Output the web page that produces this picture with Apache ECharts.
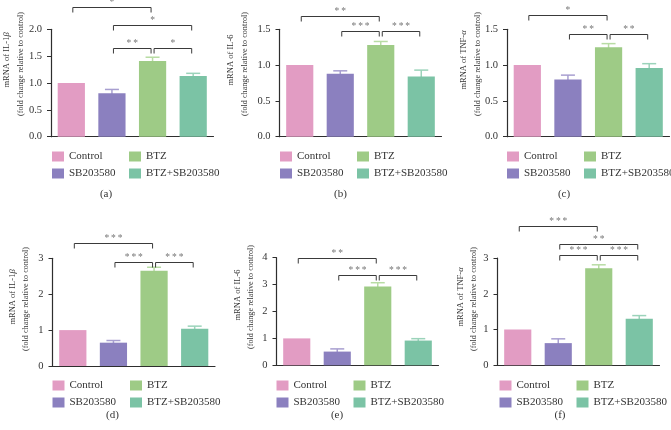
<!DOCTYPE html>
<html><head><meta charset="utf-8">
<script src="https://cdn.jsdelivr.net/npm/echarts@6/dist/echarts.min.js"></script>
<style>html,body{margin:0;padding:0;background:#fff}#c{width:671px;height:430px}</style>
</head><body><div id="c"></div>
<script>
// ---------- data ----------
const categories = ['Control', 'SB203580', 'BTZ', 'BTZ+SB203580'];

const meanA = [1.00, 0.81, 1.41, 1.13]; const errA = [0, 0.07, 0.07, 0.05];
const meanB = [1.00, 0.88, 1.28, 0.84]; const errB = [0, 0.04, 0.05, 0.09];
const meanC = [1.00, 0.80, 1.25, 0.96]; const errC = [0, 0.06, 0.05, 0.06];
const meanD = [1.00, 0.65, 2.65, 1.04]; const errD = [0, 0.06, 0.10, 0.07];
const meanE = [1.00, 0.51, 2.93, 0.92]; const errE = [0, 0.10, 0.14, 0.07];
const meanF = [1.00, 0.62, 2.71, 1.30]; const errF = [0, 0.12, 0.10, 0.09];

// significance brackets: [fromIndex, toIndex, level, stars]
const sigA = [[0, 2, 2.42, '*'], [1, 3, 2.08, '*'], [1, 2, 1.66, '**'], [2, 3, 1.66, '*']];
const sigB = [[0, 2, 1.68, '**'], [1, 2, 1.47, '***'], [2, 3, 1.47, '***']];
const sigC = [[0, 2, 1.70, '*'], [1, 2, 1.43, '**'], [2, 3, 1.43, '**']];
const sigD = [[0, 2, 3.42, '***'], [1, 2, 2.91, '***'], [2, 3, 2.91, '***']];
const sigE = [[0, 2, 4.00, '**'], [1, 2, 3.34, '***'], [2, 3, 3.34, '***']];
const sigF = [[0, 2, 3.90, '***'], [1, 3, 3.38, '**'], [1, 2, 3.07, '***'], [2, 3, 3.07, '***']];

// y axis ticks: [max, interval, decimals]
const yTicksA = [2.0, 0.5, 1];
const yTicksB = [1.5, 0.5, 1];
const yTicksC = [1.5, 0.5, 1];
const yTicksD = [3, 1, 0];
const yTicksE = [4, 1, 0];
const yTicksF = [3, 1, 0];

const yTitles = ['mRNA of IL-1{i|β}', 'mRNA of IL-6', 'mRNA of TNF-{i|α}', 'mRNA of IL-1{i|β}', 'mRNA of IL-6', 'mRNA of TNF-{i|α}'];
const yTitle2 = '(fold change relative to control)';
const captions = ['(a)', '(b)', '(c)', '(d)', '(e)', '(f)'];

// ---------- styles / layout ----------
const colors = ['#E29CC3', '#8B80BF', '#9ECB86', '#7BC3A5'];
const errColors = ['#EDB9D5', '#A89FD0', '#B8DCA4', '#9BD3BA'];
const FONT = '"Liberation Serif", "Times New Roman", serif';

const panels = [
  {mean: meanA, err: errA, sig: sigA, ticks: yTicksA, grid: {left: 51, top: 29.3, width: 162.5, height: 107.4},
   lab1: [7, 60], lab2: [20.5, 64], cap: [106, 194], leg1: [52, 151], leg2: [129, 151]},
  {mean: meanB, err: errB, sig: sigB, ticks: yTicksB, grid: {left: 279.5, top: 29.3, width: 162, height: 107.4},
   lab1: [231, 60], lab2: [244.5, 64], cap: [340.5, 194], leg1: [280, 151], leg2: [357, 151]},
  {mean: meanC, err: errC, sig: sigC, ticks: yTicksC, grid: {left: 507, top: 29.3, width: 162.5, height: 107.4},
   lab1: [463.5, 60], lab2: [477.5, 64], cap: [564, 194], leg1: [507, 151], leg2: [584, 151]},
  {mean: meanD, err: errD, sig: sigD, ticks: yTicksD, grid: {left: 52.5, top: 258.3, width: 162.5, height: 107.7},
   lab1: [13, 297], lab2: [26, 299], cap: [112.5, 415], leg1: [52.5, 380], leg2: [130, 380]},
  {mean: meanE, err: errE, sig: sigE, ticks: yTicksE, grid: {left: 276.5, top: 257.7, width: 162, height: 107.6},
   lab1: [238, 295], lab2: [251, 297], cap: [337, 415], leg1: [276.5, 380], leg2: [353.5, 380]},
  {mean: meanF, err: errF, sig: sigF, ticks: yTicksF, grid: {left: 497.5, top: 258, width: 162, height: 107.3},
   lab1: [461, 297], lab2: [474, 299], cap: [560, 415], leg1: [499.5, 380], leg2: [576.5, 380]}
];

const grid = [], xAxis = [], yAxis = [], series = [], legend = [], graphic = [];

panels.forEach((p, i) => {
  grid.push(p.grid);
  xAxis.push({
    type: 'category', gridIndex: i, data: categories,
    axisLine: {lineStyle: {color: '#2e2e2e', width: 1.2}},
    axisTick: {show: false}, axisLabel: {show: false}, splitLine: {show: false}
  });
  const [mx, iv, dec] = p.ticks;
  yAxis.push({
    type: 'value', gridIndex: i, min: 0, max: mx, interval: iv,
    axisLine: {show: true, lineStyle: {color: '#2e2e2e', width: 1.2}},
    axisTick: {show: true, length: 4, lineStyle: {color: '#2e2e2e'}},
    axisLabel: {margin: 9, fontFamily: FONT, fontSize: 10.5, color: '#333',
      formatter: v => v.toFixed(dec)},
    splitLine: {show: false}
  });
  categories.forEach((name, k) => {
    series.push({
      type: 'bar', name, xAxisIndex: i, yAxisIndex: i, stack: 'p' + i,
      barWidth: '67%', itemStyle: {color: colors[k]}, animation: false,
      data: categories.map((_, j) => j === k ? p.mean[j] : '-')
    });
  });
  // error bars
  series.push({
    type: 'custom', xAxisIndex: i, yAxisIndex: i, animation: false, clip: false,
    data: p.mean.map((m, j) => [j, m, m + p.err[j]]),
    encode: {x: 0, y: [1, 2]},
    renderItem: (params, api) => {
      const j = api.value(0);
      if (api.value(2) <= api.value(1)) return null;
      const top = api.coord([j, api.value(2)]);
      const base = api.coord([j, api.value(1)]);
      const c = errColors[j];
      return {type: 'group', children: [
        {type: 'line', shape: {x1: top[0], y1: base[1] + 3, x2: top[0], y2: top[1]}, style: {stroke: c, lineWidth: 1.5}},
        {type: 'line', shape: {x1: top[0] - 7, y1: top[1], x2: top[0] + 7, y2: top[1]}, style: {stroke: c, lineWidth: 1.5}}
      ]};
    }
  });
  // significance brackets
  const sig = p.sig;
  series.push({
    type: 'custom', xAxisIndex: i, yAxisIndex: i, animation: false, clip: false,
    data: sig.map(s => [s[0], s[1], s[2]]),
    encode: {x: [0, 1], y: 2},
    renderItem: (params, api) => {
      const a = api.coord([api.value(0), api.value(2)]);
      const b = api.coord([api.value(1), api.value(2)]);
      const x1 = a[0] + 1.5, x2 = b[0] - 1.5, y = Math.round(a[1]) + 0.5;
      return {type: 'group', children: [
        {type: 'polyline', shape: {points: [[x1, y + 5], [x1, y], [x2, y], [x2, y + 5]]},
         style: {stroke: '#3a3a3a', lineWidth: 1, fill: null}},
        {type: 'text', x: (x1 + x2) / 2, y: y,
         style: {text: sig[params.dataIndex][3].split('').join('\u2009'), textAlign: 'center', textVerticalAlign: 'bottom',
                 font: '9.5px ' + FONT, fill: '#777'}}
      ]};
    }
  });
  const legBase = {orient: 'vertical', itemWidth: 12, itemHeight: 10, itemGap: 6, padding: 0,
    icon: 'rect', selectedMode: false,
    textStyle: {fontFamily: FONT, fontSize: 11, color: '#333'}};
  legend.push(Object.assign({}, legBase, {left: p.leg1[0], top: p.leg1[1], data: ['Control', 'SB203580']}));
  legend.push(Object.assign({}, legBase, {left: p.leg2[0], top: p.leg2[1], data: ['BTZ', 'BTZ+SB203580']}));
  graphic.push({type: 'text', x: p.lab1[0], y: p.lab1[1], rotation: Math.PI / 2,
    style: {text: yTitles[i], textAlign: 'center', textVerticalAlign: 'middle', font: '8.5px ' + FONT, fill: '#333',
      rich: {i: {fontStyle: 'italic', fontSize: 8.5, fontFamily: FONT}}}});
  graphic.push({type: 'text', x: p.lab2[0], y: p.lab2[1], rotation: Math.PI / 2,
    style: {text: yTitle2, textAlign: 'center', textVerticalAlign: 'middle', font: '8.2px ' + FONT, fill: '#333'}});
  graphic.push({type: 'text', x: p.cap[0], y: p.cap[1],
    style: {text: captions[i], textAlign: 'center', textVerticalAlign: 'middle', font: '11px ' + FONT, fill: '#333'}});
});

const chart = echarts.init(document.getElementById('c'), null, {renderer: 'canvas'});
chart.setOption({animation: false, backgroundColor: '#fff', grid, xAxis, yAxis, series, legend, graphic});
</script>
</body></html>
